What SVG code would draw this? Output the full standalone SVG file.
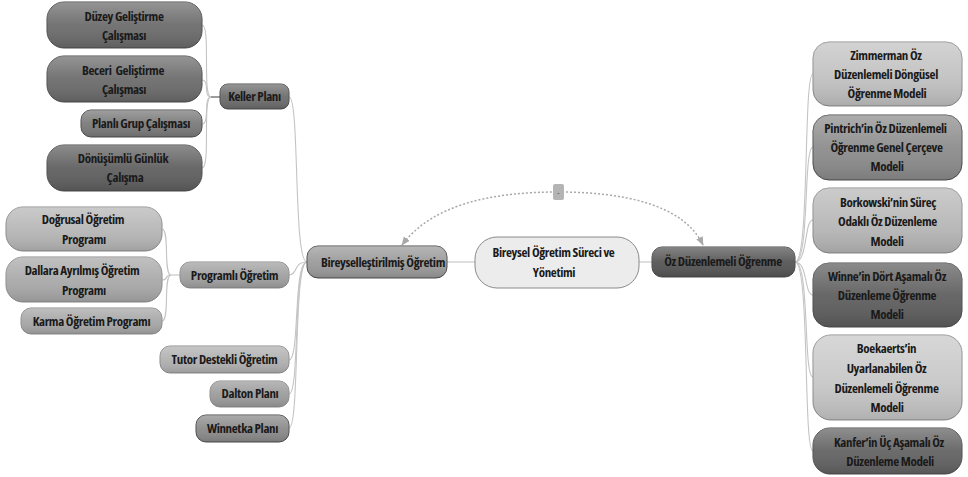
<svg xmlns="http://www.w3.org/2000/svg" width="968" height="477" viewBox="0 0 968 477">
<style>
.bg{fill:#ffffff}
.n{stroke:#4a4a4a;stroke-width:1}
.nl{stroke:#8a8a8a;stroke-width:1}
.sh{fill:url(#shine);stroke:none}
.t{font-family:"Open Sans","Noto Sans","DejaVu Sans",sans-serif;font-weight:700;font-size:13px;font-stretch:75%;letter-spacing:-0.35px;fill:#1a1a1a;text-anchor:middle}
.c{fill:none;stroke:#c4c4c4;stroke-width:1.1}
.cd{fill:none;stroke:#5a5a5a;stroke-width:1.2}
.rel{fill:none;stroke:#a8a8a8;stroke-width:1.5;stroke-dasharray:2 2}
</style>
<defs>
<linearGradient id="shine" x1="0" y1="0" x2="0" y2="1">
<stop offset="0" stop-color="#ffffff" stop-opacity="0.28"/>
<stop offset="0.5" stop-color="#ffffff" stop-opacity="0.06"/>
<stop offset="1" stop-color="#000000" stop-opacity="0.12"/>
</linearGradient>
<marker id="ah" viewBox="0 0 10 10" refX="9" refY="5" markerWidth="6" markerHeight="6" orient="auto-start-reverse">
<path d="M0,1 L10,5 L0,9 z" fill="#a8a8a8"/>
</marker>
</defs>
<rect class="bg" x="0" y="0" width="968" height="477"/>

<g id="connectors">
<path class="c" d="M447,262 L475,262"/>
<path class="c" d="M639,262 L652,262"/>
<path class="c" d="M307,262 C293,262 300,97 289,97"/>
<path class="c" d="M307,262 C293,262 298,275 289,275"/>
<path class="c" d="M307,262 C293,262 300,360 289,360"/>
<path class="c" d="M307,262 C293,262 300,394 289,394"/>
<path class="c" d="M307,262 C293,262 300,428 289,428"/>
<path class="c" d="M211,97 C202,97 211,25 202,25"/>
<path class="c" d="M211,97 C203,97 210,80 202,80"/>
<path class="c" d="M211,97 C203,97 210,124 202,124"/>
<path class="c" d="M211,97 C202,97 211,168 202,168"/>
<path class="cd" d="M211,97 L220,97"/>
<path class="c" d="M171,275 C163,275 170,229 162,229"/>
<path class="c" d="M171,275 C164,275 169,280 162,280"/>
<path class="c" d="M171,275 C163,275 170,321 162,321"/>
<path class="c" d="M171,275 L180,275"/>
<path class="c" d="M795,262 C810,262 803,74 813,74"/>
<path class="c" d="M795,262 C810,262 803,147 813,147"/>
<path class="c" d="M795,262 C808,262 804,220 813,220"/>
<path class="c" d="M795,262 C808,262 804,295 813,295"/>
<path class="c" d="M795,262 C810,262 803,377 813,377"/>
<path class="c" d="M795,262 C810,262 803,451 813,451"/>
<path class="rel" d="M703,245 C684,205 625,192 558,192 C490,192 432,205 402,245" marker-start="url(#ah)" marker-end="url(#ah)"/>
<rect x="553" y="184" width="11" height="16" rx="2" fill="#b4b4b4"/>
<text x="558.5" y="195" font-family="Open Sans, sans-serif" font-size="7" fill="#333" text-anchor="middle">-</text>
</g>

<g id="n-duzey"><rect class="n" x="47" y="2" width="155" height="46" rx="17" fill="#6b6b6b"/><rect class="sh" x="47" y="2" width="155" height="46" rx="17"/>
<text class="t"><tspan x="124" y="21">Düzey Geliştirme</tspan><tspan x="124" y="40">Çalışması</tspan></text></g>

<g id="n-beceri"><rect class="n" x="47" y="56" width="155" height="46" rx="17" fill="#6b6b6b"/><rect class="sh" x="47" y="56" width="155" height="46" rx="17"/>
<text class="t" xml:space="preserve"><tspan x="123" y="75">Beceri  Geliştirme</tspan><tspan x="124" y="94">Çalışması</tspan></text></g>

<g id="n-planli"><rect class="n" x="81" y="110" width="121" height="27" rx="10" fill="#797979"/><rect class="sh" x="81" y="110" width="121" height="27" rx="10"/>
<text class="t" x="141" y="128">Planlı Grup Çalışması</text></g>

<g id="n-donusumlu"><rect class="n" x="47" y="145" width="155" height="46" rx="17" fill="#5f5f5f"/><rect class="sh" x="47" y="145" width="155" height="46" rx="17"/>
<text class="t"><tspan x="123" y="163">Dönüşümlü Günlük</tspan><tspan x="125" y="182">Çalışma</tspan></text></g>

<g id="n-keller"><rect class="n" x="220" y="84" width="69" height="25" rx="8" fill="#6c6c6c"/><rect class="sh" x="220" y="84" width="69" height="25" rx="8"/>
<text class="t" x="254.5" y="101">Keller Planı</text></g>

<g id="n-dogrusal"><rect class="nl" x="6" y="207" width="156" height="44" rx="17" fill="#b6b6b6"/><rect class="sh" x="6" y="207" width="156" height="44" rx="17"/>
<text class="t"><tspan x="83" y="224">Doğrusal Öğretim</tspan><tspan x="84" y="244">Programı</tspan></text></g>

<g id="n-dallara"><rect class="nl" x="6" y="257" width="156" height="45" rx="17" fill="#a9a9a9"/><rect class="sh" x="6" y="257" width="156" height="45" rx="17"/>
<text class="t"><tspan x="82" y="275">Dallara Ayrılmış Öğretim</tspan><tspan x="84" y="295">Programı</tspan></text></g>

<g id="n-karma"><rect class="nl" x="21" y="308" width="141" height="26" rx="10" fill="#a6a6a6"/><rect class="sh" x="21" y="308" width="141" height="26" rx="10"/>
<text class="t" x="91.5" y="326">Karma Öğretim Programı</text></g>

<g id="n-programli"><rect class="nl" x="180" y="262" width="109" height="26" rx="10" fill="#a0a0a0"/><rect class="sh" x="180" y="262" width="109" height="26" rx="10"/>
<text class="t" x="234.5" y="280">Programlı Öğretim</text></g>

<g id="n-tutor"><rect class="nl" x="160" y="346" width="129" height="27" rx="10" fill="#b0b0b0"/><rect class="sh" x="160" y="346" width="129" height="27" rx="10"/>
<text class="t" x="224.5" y="364">Tutor Destekli Öğretim</text></g>

<g id="n-dalton"><rect class="nl" x="210" y="381" width="79" height="26" rx="10" fill="#9b9b9b"/><rect class="sh" x="210" y="381" width="79" height="26" rx="10"/>
<text class="t" x="250" y="398">Dalton Planı</text></g>

<g id="n-winnetka"><rect class="n" x="196" y="415" width="93" height="27" rx="10" fill="#8a8a8a"/><rect class="sh" x="196" y="415" width="93" height="27" rx="10"/>
<text class="t" x="242.5" y="433">Winnetka Planı</text></g>

<g id="n-bireysel"><rect class="n" x="307" y="246" width="140" height="32" rx="11" fill="#9a9a9a"/><rect class="sh" x="307" y="246" width="140" height="32" rx="11"/>
<text class="t" x="383" y="267">Bireyselleştirilmiş Öğretim</text></g>

<g id="n-center"><rect class="nl" x="475" y="237" width="164" height="51" rx="22" fill="#ececec" stroke="#b0b0b0"/>
<text class="t"><tspan x="553.5" y="257">Bireysel Öğretim Süreci ve</tspan><tspan x="554" y="277">Yönetimi</tspan></text></g>

<g id="n-oz"><rect class="n" x="652" y="247" width="143" height="30" rx="10" fill="#555555"/><rect class="sh" x="652" y="247" width="143" height="30" rx="10"/>
<text class="t" x="723" y="266">Öz Düzenlemeli Öğrenme</text></g>

<g id="n-zimmerman"><rect class="nl" x="813" y="42" width="149" height="64" rx="16" fill="#c2c2c2"/><rect class="sh" x="813" y="42" width="149" height="64" rx="16"/>
<text class="t"><tspan x="886" y="60">Zimmerman Öz</tspan><tspan x="886" y="79">Düzenlemeli Döngüsel</tspan><tspan x="887" y="98">Öğrenme Modeli</tspan></text></g>

<g id="n-pintrich"><rect class="n" x="813" y="115" width="149" height="65" rx="16" fill="#8c8c8c"/><rect class="sh" x="813" y="115" width="149" height="65" rx="16"/>
<text class="t"><tspan x="885.5" y="133">Pintrich’in Öz Düzenlemeli</tspan><tspan x="886.5" y="152">Öğrenme Genel Çerçeve</tspan><tspan x="887" y="171">Modeli</tspan></text></g>

<g id="n-borkowski"><rect class="nl" x="813" y="188" width="149" height="65" rx="16" fill="#b8b8b8"/><rect class="sh" x="813" y="188" width="149" height="65" rx="16"/>
<text class="t"><tspan x="888" y="207">Borkowski’nin Süreç</tspan><tspan x="887.5" y="226">Odaklı Öz Düzenleme</tspan><tspan x="887" y="246">Modeli</tspan></text></g>

<g id="n-winne"><rect class="n" x="813" y="263" width="149" height="64" rx="16" fill="#5e5e5e"/><rect class="sh" x="813" y="263" width="149" height="64" rx="16"/>
<text class="t"><tspan x="887" y="281">Winne’in Dört Aşamalı Öz</tspan><tspan x="887" y="300">Düzenleme Öğrenme</tspan><tspan x="887" y="319">Modeli</tspan></text></g>

<g id="n-boekaerts"><rect class="nl" x="813" y="335" width="149" height="85" rx="18" fill="#c8c8c8"/><rect class="sh" x="813" y="335" width="149" height="85" rx="18"/>
<text class="t"><tspan x="886.5" y="353">Boekaerts’in</tspan><tspan x="886.5" y="373">Uyarlanabilen Öz</tspan><tspan x="886.5" y="393">Düzenlemeli Öğrenme</tspan><tspan x="887" y="412">Modeli</tspan></text></g>

<g id="n-kanfer"><rect class="n" x="813" y="428" width="149" height="46" rx="17" fill="#626262"/><rect class="sh" x="813" y="428" width="149" height="46" rx="17"/>
<text class="t"><tspan x="889" y="447">Kanfer’in Üç Aşamalı Öz</tspan><tspan x="890" y="466">Düzenleme Modeli</tspan></text></g>
</svg>
